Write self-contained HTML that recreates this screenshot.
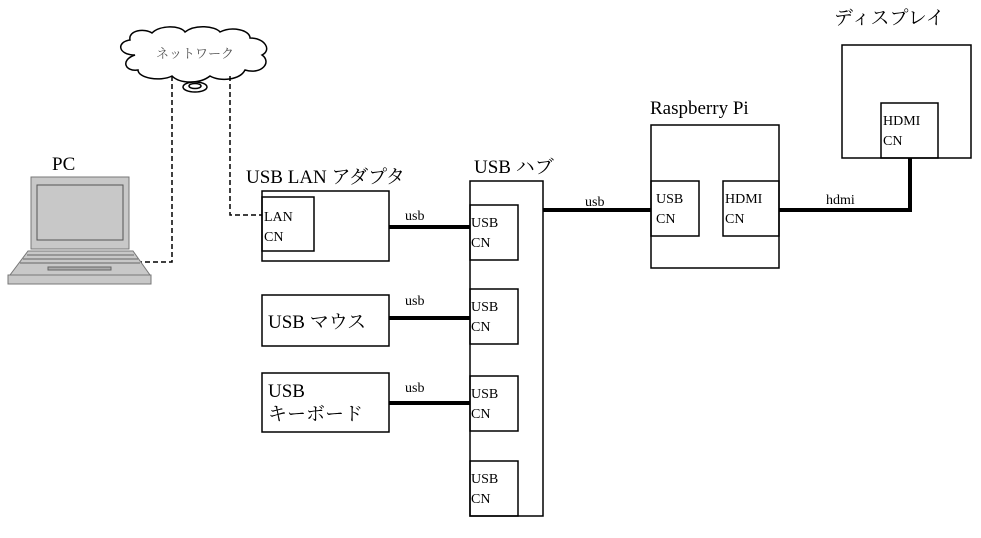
<!DOCTYPE html>
<html><head><meta charset="utf-8"><style>
body{margin:0;background:#fff}
svg text{font-family:"Liberation Serif","Noto Serif CJK SC",serif;fill:#000}
</style></head><body>
<svg width="981" height="533" viewBox="0 0 981 533" xmlns="http://www.w3.org/2000/svg">
<g fill="none" stroke="#000" stroke-width="1.5">
<path d="M135,55 C118,55 116,42 130,40 C128,30 145,28 152,33 C160,25 180,25 185,32 C195,24 215,26 220,32 C232,26 250,30 250,38 C265,38 272,50 262,55 C272,62 262,75 245,70 C240,80 220,82 210,76 C200,84 180,84 172,76 C160,82 138,78 138,70 C125,72 120,60 135,55 Z" fill="#fff"/>
<ellipse cx="195" cy="87" rx="12" ry="5" fill="#fff"/>
<ellipse cx="195" cy="86" rx="6" ry="2.5"/>
</g>
<text x="195" y="58" font-size="13" text-anchor="middle" style="fill:#555">ネットワーク</text>
<g fill="none" stroke="#000" stroke-width="1.5" stroke-dasharray="5,3">
<path d="M172,76 V262 H140"/>
<path d="M230,76 V215 H262"/>
</g>
<rect x="31" y="177" width="98" height="72" fill="#c8c8c8" stroke="#777"/>
<rect x="37" y="185" width="86" height="55" fill="#c8c8c8" stroke="#555"/>
<path d="M28,251 H133 L150,275 H10 Z" fill="#c8c8c8" stroke="#777"/>
<rect x="8" y="275" width="143" height="9" fill="#c8c8c8" stroke="#777"/>
<path d="M27,255 H134 M23,259 H138 M20,263 H140" stroke="#666"/>
<rect x="48" y="267" width="63" height="3" fill="#aaa" stroke="#666"/>
<text x="52" y="170" font-size="19">PC</text>
<g fill="none" stroke="#000" stroke-width="1.5">
<rect x="262" y="191" width="127" height="70"/>
<rect x="262" y="197" width="52" height="54"/>
<rect x="262" y="295" width="127" height="51"/>
<rect x="262" y="373" width="127" height="59"/>
<rect x="470" y="181" width="73" height="335"/>
<rect x="470" y="205" width="48" height="55"/>
<rect x="470" y="289" width="48" height="55"/>
<rect x="470" y="376" width="48" height="55"/>
<rect x="470" y="461" width="48" height="55"/>
<rect x="651" y="125" width="128" height="143"/>
<rect x="651" y="181" width="48" height="55"/>
<rect x="723" y="181" width="56" height="55"/>
<rect x="842" y="45" width="129" height="113"/>
<rect x="881" y="103" width="57" height="55"/>
</g>
<g fill="none" stroke="#000" stroke-width="4">
<path d="M389,227 H470 M389,318 H470 M389,403 H470 M543,210 H651"/>
<path d="M779,210 H910 V158"/>
</g>
<g font-size="14">
<text x="264" y="221">LAN</text><text x="264" y="241">CN</text>
<text x="471" y="227">USB</text><text x="471" y="247">CN</text>
<text x="471" y="311">USB</text><text x="471" y="331">CN</text>
<text x="471" y="398">USB</text><text x="471" y="418">CN</text>
<text x="471" y="483">USB</text><text x="471" y="503">CN</text>
<text x="656" y="203">USB</text><text x="656" y="223">CN</text>
<text x="725" y="203">HDMI</text><text x="725" y="223">CN</text>
<text x="883" y="125">HDMI</text><text x="883" y="145">CN</text>
<text x="405" y="220">usb</text><text x="405" y="305">usb</text><text x="405" y="392">usb</text>
<text x="585" y="206">usb</text><text x="826" y="204">hdmi</text>
</g>
<g font-size="19">
<text x="246" y="183">USB LAN アダプタ</text>
<text x="474" y="173">USB ハブ</text>
<text x="650" y="114">Raspberry Pi</text>
<text x="834" y="24">ディスプレイ</text>
<text x="268" y="328">USB マウス</text>
<text x="268" y="397">USB</text>
<text x="268" y="420">キーボード</text>
</g>
</svg>
</body></html>
